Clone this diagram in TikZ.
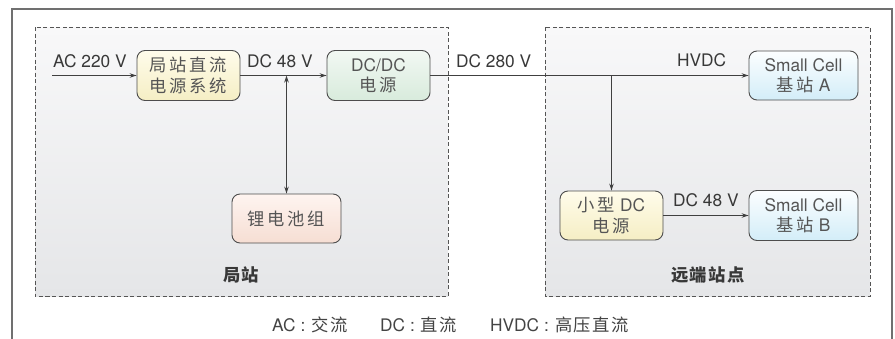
\documentclass[tikz,border=0pt]{standalone}
\usepackage{fontspec}
\setmainfont{TeX Gyre Heros}
\newfontfamily\cjk[LetterSpace=16]{Noto Sans CJK SC}
\newfontfamily\cjklab[LetterSpace=8]{Noto Sans CJK SC}
\usetikzlibrary{arrows.meta}
\definecolor{boxline}{HTML}{4D4D4D}
\definecolor{boxtext}{HTML}{555555}
\definecolor{labtext}{HTML}{383838}
\definecolor{legtext}{HTML}{444444}
\definecolor{arrc}{HTML}{404040}
\definecolor{frame}{HTML}{707070}
\definecolor{ytop}{HTML}{FFFCEB}
\definecolor{ybot}{HTML}{F5EEC4}
\definecolor{gtop}{HTML}{F2F8F3}
\definecolor{gbot}{HTML}{D8EBDC}
\definecolor{ptop}{HTML}{FEF4F0}
\definecolor{pbot}{HTML}{F6DED3}
\definecolor{btop}{HTML}{FCFEFF}
\definecolor{bbot}{HTML}{D3EDF8}
\definecolor{rtop}{HTML}{F8F8F9}
\definecolor{rbot}{HTML}{E5E6E8}
\definecolor{rline}{HTML}{555555}
\begin{document}
\begin{tikzpicture}[x=1pt,y=-1pt,
  box/.style={draw=boxline, line width=0.9pt, rounded corners=8pt,
    minimum width=103pt, minimum height=50pt, align=center, text=boxtext,
    font=\fontsize{17.3}{20.5}\selectfont, inner sep=0pt},
  wide/.style={minimum width=109pt, minimum height=49pt},
  yfill/.style={top color=ytop, bottom color=ybot},
  gfill/.style={top color=gtop, bottom color=gbot},
  pfill/.style={top color=ptop, bottom color=pbot},
  bfill/.style={top color=btop, bottom color=bbot},
  region/.style={draw=rline, line width=0.8pt, dash pattern=on 4pt off 2.5pt,
    top color=rtop, bottom color=rbot},
  lab/.style={text=labtext, font=\fontsize{17.3}{19}\selectfont, inner sep=0pt},
  leg/.style={text=legtext, font=\fontsize{17.3}{19}\selectfont, inner sep=0pt},
  title/.style={text=labtext, font=\fontsize{17.3}{19}\selectfont\cjklab\bfseries, inner sep=0pt},
  arr/.style={draw=arrc, line width=0.8pt, -{Stealth[length=7pt,width=4.5pt]}},
  darr/.style={draw=arrc, line width=0.8pt, {Stealth[length=7pt,width=4.5pt]}-{Stealth[length=7pt,width=4.5pt]}}
]
\useasboundingbox (0,0) rectangle (895,338);
\fill[white] (0,0) rectangle (895,338);
% outer frame
\draw[frame, line width=1.3pt] (12,345) -- (12,9) -- (892,9) -- (892,345);
% regions
\path[region] (35,27) rectangle (448,296);
\path[region] (545,27) rectangle (870,296);
% boxes
\node[box, yfill] (src) at (188.5,75.5) {{\cjk 局站直流}\\{\cjk 电源系统}};
\node[box, gfill] (dcdc) at (378.5,75.5) {DC/DC\\{\cjk 电源}};
\node[box, wide, pfill] (bat) at (286.5,218.5) {{\cjk 锂电池组}};
\node[box, wide, bfill] (sca) at (803.5,75.5) {Small Cell\\{\cjk 基站} A};
\node[box, yfill, minimum height=49pt] (small) at (611.5,215.5) {{\cjk 小型} DC\\{\cjk 电源}};
\node[box, wide, bfill, minimum height=50pt] (scb) at (803.5,215.5) {Small Cell\\{\cjk 基站} B};
% connectors
\coordinate (acin) at (52,75.5);
\draw[arr] (acin) -- (src.west);
\draw[arr] (src.east) -- (dcdc.west);
\draw[arr] (dcdc.east) -- (sca.west);
\draw[darr] (bat.north) -- (bat.north |- src.east);
\draw[arr] (small.north |- dcdc.east) -- (small.north);
\draw[arr] (small.east) -- (scb.west);
% labels
\node[lab, anchor=base west] (l1) at (53,67.5) {AC 220 V};
\node[lab, anchor=base west] (l2) at (247,67.5) {DC 48 V};
\node[lab, anchor=base west] (l3) at (456,67) {DC 280 V};
\node[lab, anchor=base west] (l4) at (677,66.5) {HVDC};
\node[lab, anchor=base west] (l5) at (673,206.5) {DC 48 V};
\node[title] (t1) at (241,274.5) {局站};
\node[title] (t2) at (708,274.5) {远端站点};
% legend
\node[leg, anchor=base west] (g1) at (272,331) {AC\hspace{5pt}:\hspace{6pt}{\cjklab 交流}};
\node[leg, anchor=base west] (g2) at (380,331) {DC\hspace{5pt}:\hspace{6pt}{\cjklab 直流}};
\node[leg, anchor=base west] (g3) at (490,331) {HVDC\hspace{5pt}:\hspace{6pt}{\cjklab 高压直流}};
\end{tikzpicture}
\end{document}
